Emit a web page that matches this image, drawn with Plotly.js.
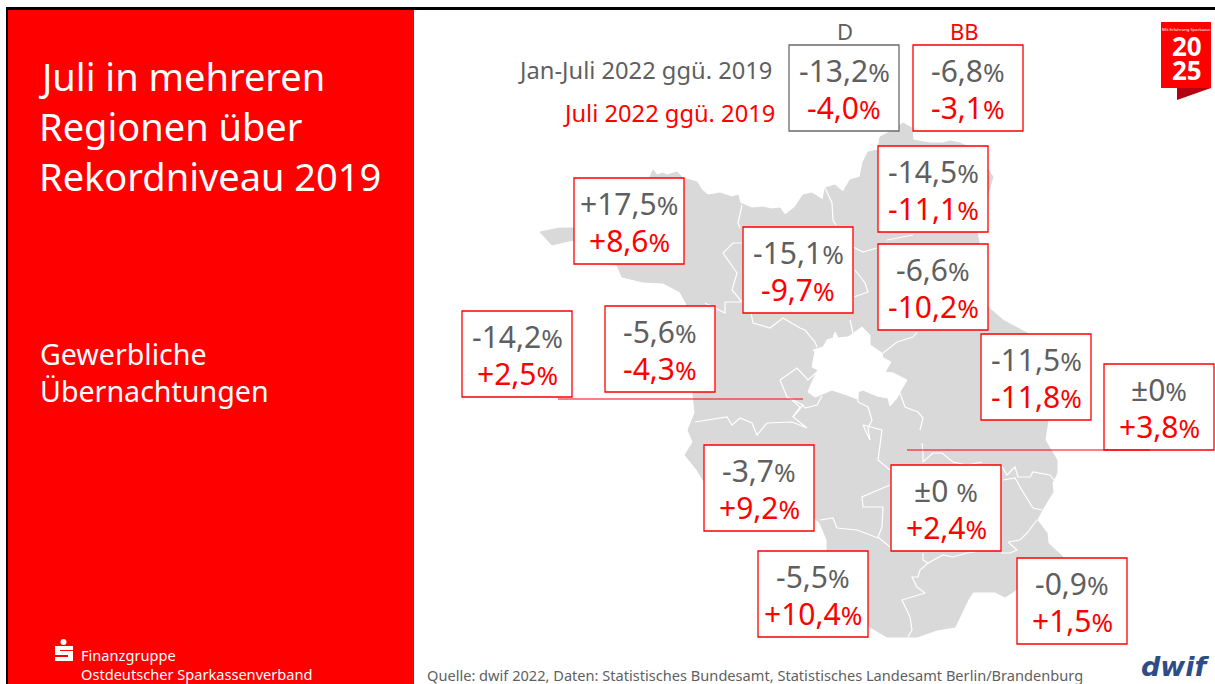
<!DOCTYPE html>
<html><head><meta charset="utf-8">
<script src="https://cdn.plot.ly/plotly-3.0.1.min.js"></script>
<style>html,body{margin:0;padding:0;background:#fff}#c{width:1215px;height:684px}</style>
</head><body><div id="c"></div>
<script>
// ---------- data ----------
const regionJanJuli = ['-14,5','+17,5','-15,1','-6,6','-14,2','-5,6','-11,5','±0','-3,7','±0 ','-5,5','-0,9'];
const regionJuli    = ['-11,1','+8,6','-9,7','-10,2','+2,5','-4,3','-11,8','+3,8','+9,2','+2,4','+10,4','+1,5'];
const totalHeads    = ['D','BB'];
const totalJanJuli  = ['-13,2','-6,8'];
const totalJuli     = ['-4,0','-3,1'];
const rowLabels     = ['Jan-Juli 2022 ggü. 2019','Juli 2022 ggü. 2019'];
const titleLines    = ['Juli in mehreren','Regionen über','Rekordniveau 2019'];
const subtitleLines = ['Gewerbliche','Übernachtungen'];
const footerLines   = ['Finanzgruppe','Ostdeutscher Sparkassenverband'];
const sourceText    = 'Quelle: dwif 2022, Daten: Statistisches Bundesamt, Statistisches Landesamt Berlin/Brandenburg';

// map outline
const mapX = [540,560,573,600,650,653,657,663,667,677,683,697,702,708,720,732,738,740,752,763,772,780,785,795,803,812,823,825,835,843,850,860,863,868,878,880,893,903,912,913,930,943,950,960,975,993,987,977,985,988,1003,1027,1045,1048,1045,1057,1057,1052,1053,1042,1037,1047,1048,1063,1040,1017,1005,995,973,968,962,955,937,917,887,870,850,827,827,820,813,760,703,697,685,693,688,695,693,695,690,687,680,663,643,622,617,590,573,552,540];
const mapY = [232,228,228,200,177,170,175,173,175,172,178,182,190,195,193,197,195,203,208,207,209,208,215,207,195,193,200,188,185,192,180,177,162,152,150,137,130,123,128,140,143,143,141,143,150,177,197,233,270,307,320,333,380,420,440,460,473,483,492,510,520,533,543,557,575,590,597,592,592,600,613,627,630,637,637,627,600,550,540,523,517,520,480,470,455,442,430,413,393,350,320,305,292,283,282,277,265,262,240,245,232];
const berlinX = [813,823,827,833,835,838,848,855,862,870,870,882,883,891,885,893,907,900,897,890,888,877,863,858,857,847,832,820,815,808,812,818,812,815,813];
const berlinY = [350,347,340,338,332,338,337,332,327,335,345,353,358,362,372,373,380,392,398,406,398,396,390,392,399,395,390,395,397,392,382,370,367,352,350];
const borderX = [742,738,740,null,742,733,723,737,732,742,725,725,705,null,751,753,770,783,800,805,815,817,null,825,832,833,836,null,853,863,877,null,855,865,868,854,null,850,852,853,null,887,913,null,917,913,897,883,null,780,797,808,817,null,780,787,803,805,817,822,null,793,803,null,858,858,868,872,868,870,863,882,878,890,null,900,905,918,923,920,null,890,862,863,883,882,878,890,null,695,727,732,740,752,757,767,792,807,793,800,792,null,922,923,923,933,942,953,967,975,982,null,1001,1007,1015,1018,1030,1033,1050,1054,null,1003,1015,1023,1028,1033,1042,null,1037,1027,1020,1008,1017,1010,1001,null,820,833,837,857,878,null,923,923,928,943,953,967,975,null,928,920,918,912,917,925,902,910,912,908];
const borderY = [205,223,228,null,243,243,253,273,290,302,302,313,303,null,313,323,328,318,328,330,342,347,null,188,203,220,225,null,247,252,248,null,270,283,292,297,null,320,328,333,null,240,235,null,332,337,342,353,null,380,368,380,372,null,380,397,405,408,405,396,null,417,405,null,392,402,407,420,428,440,425,430,460,470,null,393,407,412,418,430,null,485,497,507,507,527,537,547,null,422,417,425,418,423,435,423,422,428,417,407,400,null,443,453,462,453,453,462,465,463,462,null,465,475,467,477,477,472,475,480,null,480,478,492,500,508,510,null,520,533,540,542,550,553,553,null,520,518,528,530,538,null,553,560,563,555,557,553,552,null,563,570,577,577,587,593,600,617,630,637];

// ---------- layout tables (positions in picture pixels) ----------
const regionBoxes = [[878,146],[574,178],[743,227],[878,244],[462,311],[605,306],[981,334],[1104,364],[704,445],[891,465],[758,551],[1017,558]];
const totalBoxes = [[789,45],[913,45]];
const BW = 110, BH = 86, RED = '#ff0000', GREY = '#5f5f5f';
const FONT = '"Noto Sans", sans-serif';

const shapes = [], ann = [];
function rect(x0,y0,x1,y1,fill,line,w){shapes.push({type:'rect',xref:'x',yref:'y',x0,y0,x1,y1,fillcolor:fill,line:{color:line||fill,width:w||0},layer:'above'});}
function lineS(x0,y0,x1,y1,c,w){shapes.push({type:'line',xref:'x',yref:'y',x0,y0,x1,y1,line:{color:c,width:w},layer:'above'});}
function txt(x,y,text,size,color,anchor,weight){ann.push({x,y,xref:'x',yref:'y',text,showarrow:false,xanchor:anchor||'center',yanchor:'middle',align:anchor||'center',font:{family:FONT,size,color,weight:weight||400},borderpad:0,borderwidth:0});}
function pct(v){return v+'<span style="font-size:26px">%</span>';}

// frame
rect(8,10,414,684,RED);
rect(6,8,8,684,'#000');
rect(6,7,1215,10,'#000');

// value boxes
function valueBox(pos,a,b,lineColor){
  const x=pos[0],y=pos[1];
  rect(x,y,x+BW,y+BH,'#ffffff',lineColor,1.3);
  txt(x+BW/2,y+25,pct(a),30,GREY);
  txt(x+BW/2,y+62,pct(b),30,RED);
}
regionBoxes.forEach((p,i)=>valueBox(p,regionJanJuli[i],regionJuli[i],RED));
valueBox(totalBoxes[0],totalJanJuli[0],totalJuli[0],'#6a6a6a');
valueBox(totalBoxes[1],totalJanJuli[1],totalJuli[1],RED);
txt(845,31,totalHeads[0],22,GREY);
txt(964,31,totalHeads[1],22,RED);
txt(772,70,rowLabels[0],23.7,GREY,'right');
txt(775,113,rowLabels[1],23.7,RED,'right');

// leader lines
lineS(558,399,803,399,RED,1);
lineS(907,450,1150,450,RED,1);

// left panel text
titleLines.forEach((t,i)=>txt(39,76+i*50,t,38,'#fff','left'));
txt(40,371.5,subtitleLines.join('<br>'),28.6,'#fff','left');
txt(81,654.5,footerLines[0],14.6,'#fff','left');
txt(81,673.5,footerLines[1],14.6,'#fff','left');
txt(427,674.5,sourceText,14.6,GREY,'left');

// S logo
shapes.push({type:'circle',xref:'x',yref:'y',x0:60.5,y0:639,x1:66.5,y1:645,fillcolor:'#fff',line:{width:0},layer:'above'});
rect(55,646,73,650,'#fff'); rect(55,646,60,655,'#fff'); rect(55,651,73,655,'#fff');
rect(68,651,73,661,'#fff'); rect(55,657,73,661,'#fff');

// 2025 emblem
rect(1161,22,1211,88,RED);
shapes.push({type:'path',xref:'x',yref:'y',path:'M1177,88 L1211,88 L1177,100 Z',fillcolor:'#b40010',line:{width:0},layer:'above'});
txt(1186,29.5,'Mit Erfahrung Sparkasse',4.2,'#fff');
txt(1187,46,'20',26,'#fff','center',700);
txt(1187,70,'25',26,'#fff','center',700);

// dwif logo
ann.push({x:1175.5,y:666,xref:'x',yref:'y',text:'<b><i>dwif</i></b>',showarrow:false,xanchor:'center',yanchor:'middle',font:{family:'"DejaVu Sans", sans-serif',size:27,color:'#2e4d87'}});

const traces = [
  {x:mapX,y:mapY,type:'scatter',mode:'lines',fill:'toself',fillcolor:'#d9d9d9',line:{color:'#d9d9d9',width:1},hoverinfo:'skip'},
  {x:berlinX,y:berlinY,type:'scatter',mode:'lines',fill:'toself',fillcolor:'#ffffff',line:{color:'#ffffff',width:1},hoverinfo:'skip'},
  {x:borderX,y:borderY,type:'scatter',mode:'lines',connectgaps:false,line:{color:'#ffffff',width:1.2},hoverinfo:'skip'}
];
Plotly.newPlot('c',traces,{
  width:1215,height:684,margin:{l:0,r:0,t:0,b:0,pad:0},showlegend:false,
  paper_bgcolor:'#fff',plot_bgcolor:'#fff',
  xaxis:{range:[0,1215],visible:false,fixedrange:true},
  yaxis:{range:[684,0],visible:false,fixedrange:true},
  shapes,annotations:ann
},{displayModeBar:false,staticPlot:true});
</script></body></html>
